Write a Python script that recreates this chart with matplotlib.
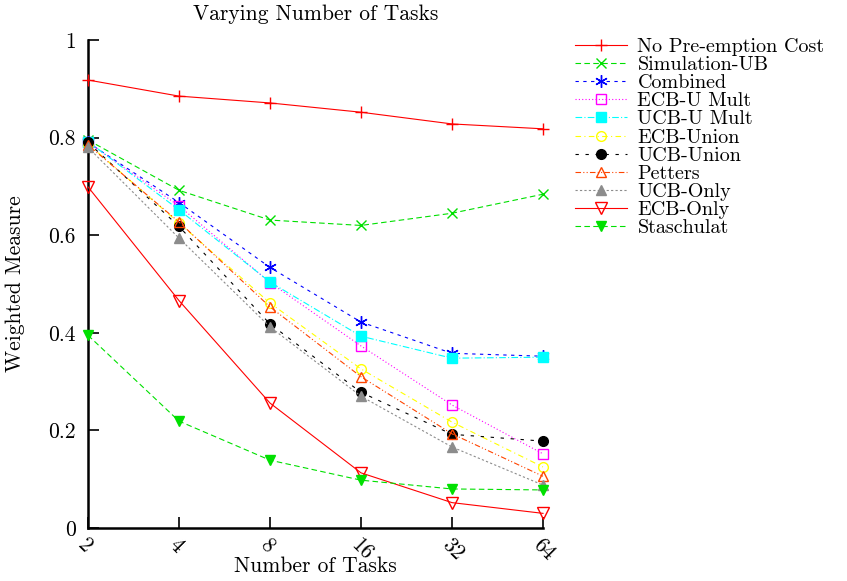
import matplotlib
matplotlib.use("Agg")
import matplotlib.pyplot as plt
from matplotlib.ticker import FixedLocator, FixedFormatter, NullLocator

plt.rcParams['font.family'] = ['cmr10', 'DejaVu Serif']
plt.rcParams['axes.formatter.use_mathtext'] = True
plt.rcParams['mathtext.fontset'] = 'cm'

tasks = [2, 4, 8, 16, 32, 64]
task_labels = ["2", "4", "8", "16", "32", "64"]
y_ticks = [0, 0.2, 0.4, 0.6, 0.8, 1.0]
y_tick_labels = ["0", "0.2", "0.4", "0.6", "0.8", "1"]

no_preemption = [0.918, 0.885, 0.871, 0.852, 0.828, 0.818]
simulation_ub = [0.795, 0.692, 0.631, 0.620, 0.645, 0.684]
combined = [0.790, 0.667, 0.534, 0.422, 0.358, 0.352]
ecb_u_mult = [0.790, 0.660, 0.503, 0.373, 0.252, 0.152]
ucb_u_mult = [0.792, 0.652, 0.504, 0.393, 0.348, 0.350]
ecb_union = [0.787, 0.625, 0.461, 0.326, 0.217, 0.125]
ucb_union = [0.790, 0.618, 0.418, 0.278, 0.192, 0.178]
petters = [0.785, 0.627, 0.453, 0.310, 0.193, 0.106]
ucb_only = [0.780, 0.594, 0.412, 0.270, 0.166, 0.088]
ecb_only = [0.699, 0.466, 0.256, 0.113, 0.052, 0.030]
staschulat = [0.395, 0.219, 0.139, 0.098, 0.080, 0.078]

series = [
    ("No Pre-emption Cost", no_preemption, dict(color="#ff0000", ls="-", marker="+", mfc="none", ms=9, mew=1.0)),
    ("Simulation-UB", simulation_ub, dict(color="#00e000", ls=(0, (5, 3)), marker="x", mfc="none", ms=7.5, mew=1.0)),
    ("Combined", combined, dict(color="#0000ff", ls=(0, (3, 4)), marker=(6, 2, 0), mfc="none", ms=9, mew=1.0)),
    ("ECB-U Mult", ecb_u_mult, dict(color="#ff00ff", ls=(0, (1, 2)), marker="s", mfc="none", ms=6.5, mew=1.0)),
    ("UCB-U Mult", ucb_u_mult, dict(color="#00ffff", ls=(0, (6, 2, 1, 2)), marker="s", mfc="#00ffff", ms=6.5, mew=1.0)),
    ("ECB-Union", ecb_union, dict(color="#ffff00", ls=(0, (5, 3, 1, 3)), marker="o", mfc="none", ms=7, mew=1.0)),
    ("UCB-Union", ucb_union, dict(color="#000000", ls=(0, (3, 6)), marker="o", mfc="#000000", ms=7, mew=1.0)),
    ("Petters", petters, dict(color="#ff4500", ls=(0, (5, 2, 1, 2, 1, 2)), marker="^", mfc="none", ms=7.5, mew=1.0)),
    ("UCB-Only", ucb_only, dict(color="#8c8c8c", ls=(0, (2, 2)), marker="^", mfc="#8c8c8c", ms=7, mew=1.0)),
    ("ECB-Only", ecb_only, dict(color="#ff0000", ls="-", marker="v", mfc="none", ms=8, mew=1.0)),
    ("Staschulat", staschulat, dict(color="#00e000", ls=(0, (5, 3)), marker="v", mfc="#00e000", ms=7, mew=1.0)),
]

fig = plt.figure(figsize=(8.47, 5.81), dpi=100)
ax = fig.add_axes([88 / 847, 53 / 581, (543 - 88) / 847, (528 - 40) / 581])

for label, values, style in series:
    ax.plot(tasks, values, label=label, lw=0.8, clip_on=False, **style)

ax.set_xscale("log", base=2)
ax.set_xlim(2, 64)
ax.set_ylim(0, 1)
ax.xaxis.set_major_locator(FixedLocator(tasks))
ax.xaxis.set_major_formatter(FixedFormatter(task_labels))
ax.xaxis.set_minor_locator(NullLocator())
ax.yaxis.set_major_locator(FixedLocator(y_ticks))
ax.yaxis.set_major_formatter(FixedFormatter(y_tick_labels))

for side in ("top", "right"):
    ax.spines[side].set_visible(False)
for side in ("left", "bottom"):
    ax.spines[side].set_linewidth(1.8)
    ax.spines[side].set_zorder(0.5)

ax.tick_params(axis="both", direction="in", length=8, width=1.2, labelsize=15.5)
ax.tick_params(axis="y", pad=9)
ax.tick_params(axis="x", pad=5)
for lbl in ax.get_xticklabels():
    lbl.set_rotation(-45)
    lbl.set_ha("left")
    lbl.set_va("top")
    lbl.set_rotation_mode("anchor")

fig.text(315.5 / 847, 1 - 14 / 581, "Varying Number of Tasks", fontsize=15.5,
         ha="center", va="center")
ax.set_xlabel("Number of Tasks", fontsize=15.5)
ax.xaxis.set_label_coords(0.5, -(566 - 528) / 488)
ax.xaxis.label.set_va("center")
ax.set_ylabel("Weighted Measure", fontsize=15.5)
ax.yaxis.set_label_coords((15 - 88) / 455, 0.5)
ax.yaxis.label.set_va("center")

leg = ax.legend(loc="upper left", bbox_to_anchor=(575 / 847, 1 - 38 / 581),
                bbox_transform=fig.transFigure, frameon=False, fontsize=14.5,
                handlelength=2.6, handletextpad=0.5, labelspacing=0.0,
                borderaxespad=0, borderpad=0)

fig.savefig("out.png", dpi=100)
